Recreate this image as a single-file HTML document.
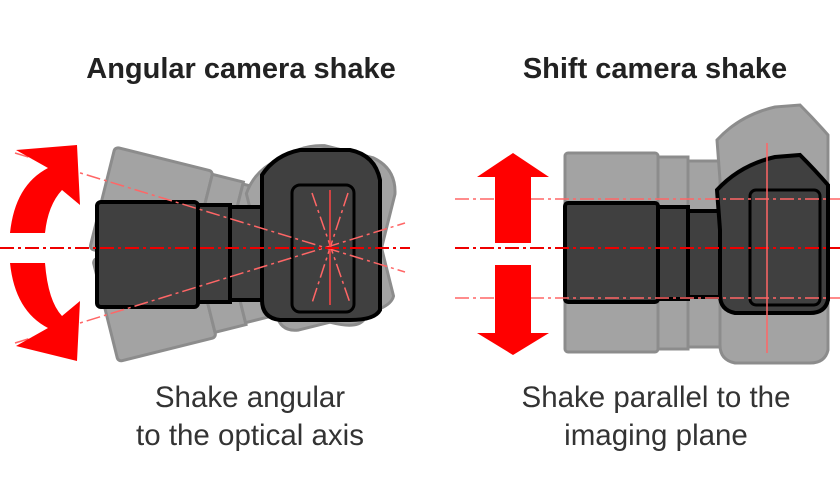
<!DOCTYPE html><html><head><style>body{margin:0;background:#fff}svg{display:block}</style></head><body>
<svg width="840" height="481" viewBox="0 0 840 481" xmlns="http://www.w3.org/2000/svg" font-family="Liberation Sans, sans-serif">
<defs>
<g id="camL">
<rect x="97" y="202" width="101" height="105" rx="4"/>
<rect x="198" y="205" width="32" height="97"/>
<rect x="230" y="207" width="38" height="93"/>
<path d="M262 175 Q275 155 300 150 L350 150 Q375 155 380 180 L380 310 Q375 320 350 320 L280 320 Q262 318 262 300 Z"/>
</g>
<g id="camR">
<rect x="565" y="203" width="93" height="99" rx="3"/>
<rect x="658" y="207" width="30" height="92"/>
<rect x="688" y="211" width="37" height="86"/>
<path d="M717 190 Q740 165 775 157 L800 155 Q815 170 828 185 L828 300 Q825 313 810 313 L735 313 Q720 310 720 295 L720 230 Z"/>
</g>
</defs>
<text x="241" y="78" text-anchor="middle" font-size="29" font-weight="bold" fill="#222">Angular camera shake</text>
<text x="655" y="78" text-anchor="middle" font-size="29" font-weight="bold" fill="#222">Shift camera shake</text>
<text x="250" y="407" text-anchor="middle" font-size="29.5" fill="#333">Shake angular</text>
<text x="250" y="445" text-anchor="middle" font-size="29.5" fill="#333">to the optical axis</text>
<text x="656" y="407" text-anchor="middle" font-size="29.5" fill="#333">Shake parallel to the</text>
<text x="656" y="445" text-anchor="middle" font-size="29.5" fill="#333">imaging plane</text>
<g fill="#9a9a9a" stroke="#808080" stroke-width="3" opacity="0.9">
<use href="#camL" transform="rotate(14 330 248)"/>
<use href="#camL" transform="rotate(-14 330 248)"/>
</g>
<g fill="#404040" stroke="#000" stroke-width="4"><use href="#camL"/></g>
<rect x="292" y="185" width="62" height="127" rx="8" fill="none" stroke="#000" stroke-width="3"/>
<g stroke="#f66" stroke-width="1.5" stroke-dasharray="14 4 3 4" fill="none">
<line x1="15" y1="153" x2="405" y2="272"/>
<line x1="15" y1="343" x2="405" y2="223"/>
<line x1="312" y1="193" x2="350" y2="303"/>
<line x1="348" y1="193" x2="312" y2="303"/>
</g>
<line x1="330" y1="190" x2="330" y2="305" stroke="#f44" stroke-width="1.5"/>
<line x1="0" y1="248" x2="410" y2="248" stroke="#e00" stroke-width="2" stroke-dasharray="14 4 3 4"/>
<path d="M10 233 Q15 185 48 168 L16 150 L77 145 L80 205 L62 190 Q48 205 45 233 Z" fill="#f00"/>
<path d="M10 263 Q15 311 48 328 L16 346 L77 361 L80 301 L62 316 Q48 301 45 263 Z" fill="#f00"/>
<g fill="#9a9a9a" stroke="#808080" stroke-width="3" opacity="0.9">
<use href="#camR" transform="translate(0 -50)"/>
<use href="#camR" transform="translate(0 50)"/>
</g>
<g fill="#404040" stroke="#000" stroke-width="4"><use href="#camR"/></g>
<rect x="750" y="190" width="70" height="115" rx="6" fill="none" stroke="#000" stroke-width="3"/>
<g stroke="#f66" stroke-width="1.5" stroke-dasharray="14 4 3 4">
<line x1="455" y1="199" x2="840" y2="199"/>
<line x1="455" y1="298" x2="840" y2="298"/>
</g>
<line x1="455" y1="248" x2="840" y2="248" stroke="#e00" stroke-width="2" stroke-dasharray="14 4 3 4"/>
<line x1="767" y1="143" x2="767" y2="353" stroke="#f66" stroke-width="1.5"/>
<path d="M513 153 L549 177 L531 177 L531 243 L495 243 L495 177 L477 177 Z" fill="#f00"/>
<path d="M513 355 L549 333 L531 333 L531 265 L495 265 L495 333 L477 333 Z" fill="#f00"/>
</svg>
</body></html>
